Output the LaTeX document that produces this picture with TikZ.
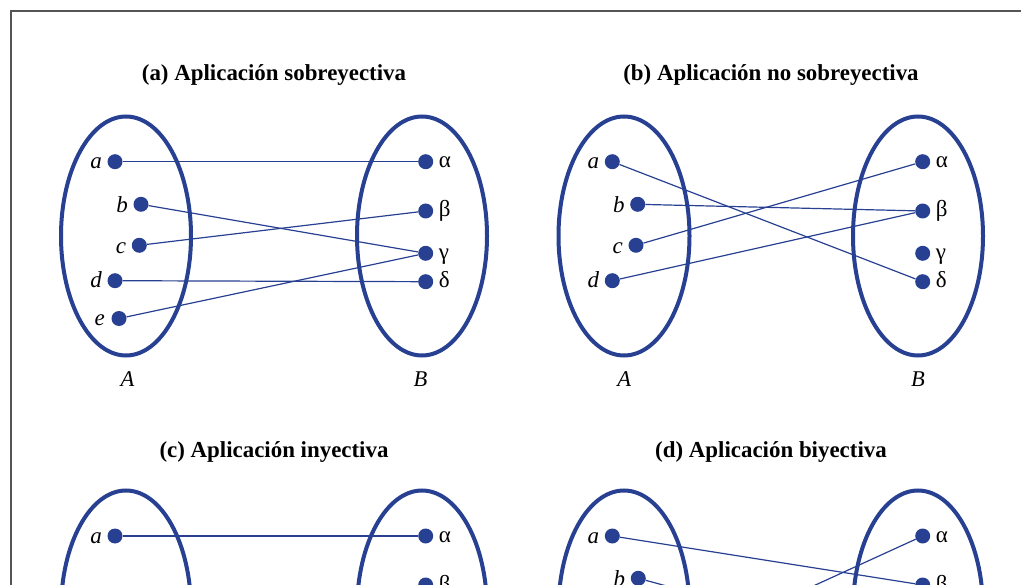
\documentclass[tikz,border=0pt]{standalone}
\usepackage{fontspec}
\setmainfont{Liberation Serif}
\definecolor{setblue}{RGB}{40,64,146}
\definecolor{framegray}{RGB}{85,85,85}
\begin{document}
\begin{tikzpicture}[x=1pt,y=-1pt,
 setell/.style={draw=setblue, line width=4pt},
 pt/.style={circle, fill=setblue, inner sep=0pt, minimum size=15pt},
 map/.style={draw=setblue, line width=1.2pt},
 lat/.style={anchor=base east, inner sep=0pt, font=\fontsize{23}{25}\selectfont\itshape},
 grk/.style={anchor=base west, inner sep=0pt, font=\fontsize{23}{25}\selectfont},
 setname/.style={anchor=base, inner sep=0pt, font=\fontsize{22.5}{25}\selectfont\itshape},
 ttl/.style={anchor=base, inner sep=0pt, font=\fontsize{22.9}{26}\selectfont\bfseries},
 frame/.style={draw=framegray, line width=1.2pt}]
\path[use as bounding box] (0,0) rectangle (1021,585);
\clip (0,0) rectangle (1021,585);
% frame
\coordinate (F-tr) at (1025,11);
\coordinate (F-tl) at (11,11);
\coordinate (F-bl) at (11,590);
\draw[frame] (F-tr) -- (F-tl) -- (F-bl);
% titles
\node[ttl] (T-a) at (274,81) {(a) Aplicación sobreyectiva};
\node[ttl] (T-b) at (771,81) {(b) Aplicación no sobreyectiva};
\node[ttl] (T-c) at (274,457) {(c) Aplicación inyectiva};
\node[ttl] (T-d) at (771,457) {(d) Aplicación biyectiva};
% ellipses
\draw[setell] (126,236) ellipse [x radius=65, y radius=119.5];
\draw[setell] (422,236) ellipse [x radius=65, y radius=119.5];
\draw[setell] (624,236) ellipse [x radius=65.5, y radius=119.5];
\draw[setell] (918,236) ellipse [x radius=65, y radius=119.5];
\draw[setell] (126,610) ellipse [x radius=65, y radius=119.5];
\draw[setell] (422,610) ellipse [x radius=65, y radius=119.5];
\draw[setell] (624,610) ellipse [x radius=65.5, y radius=119.5];
\draw[setell] (918,610) ellipse [x radius=65, y radius=119.5];
% set names
\node[setname] (A-A) at (127.5,387) {A};
\node[setname] (A-B) at (420.5,387) {B};
\node[setname] (B-A) at (624.3,387) {A};
\node[setname] (B-B) at (918,387) {B};
% ---- panel (a)
\node[pt] (Aa) at (115,161.7) {};
\node[pt] (Ab) at (141,204.3) {};
\node[pt] (Ac) at (139.3,245.3) {};
\node[pt] (Ad) at (115,280.7) {};
\node[pt] (Ae) at (119,318.5) {};
\node[pt] (Aal) at (425.7,161.7) {};
\node[pt] (Abe) at (425.7,211) {};
\node[pt] (Aga) at (425.7,253.3) {};
\node[pt] (Ade) at (425.7,281.7) {};
\node[lat] (LAa) at ([shift={(-13,7)}]Aa.center) {a};
\node[lat] (LAb) at ([shift={(-13,8)}]Ab.center) {b};
\node[lat] (LAc) at ([shift={(-13,8)}]Ac.center) {c};
\node[lat] (LAd) at ([shift={(-13,7)}]Ad.center) {d};
\node[lat] (LAe) at ([shift={(-14,7)}]Ae.center) {e};
\node[grk] (LAal) at ([shift={(13,6)}]Aal.center) {α};
\node[grk] (LAbe) at ([shift={(13,6)}]Abe.center) {β};
\node[grk] (LAga) at ([shift={(13,6)}]Aga.center) {γ};
\node[grk] (LAde) at ([shift={(13,6)}]Ade.center) {δ};
\draw[map] (Aa) -- (Aal);
\draw[map] (Ab) -- (Aga);
\draw[map] (Ac) -- (Abe);
\draw[map] (Ad) -- (Ade);
\draw[map] (Ae) -- (Aga);
% ---- panel (b)
\node[pt] (Ba) at (612.3,161.7) {};
\node[pt] (Bb) at (637.7,204.3) {};
\node[pt] (Bc) at (636,245.3) {};
\node[pt] (Bd) at (612.3,280.7) {};
\node[pt] (Bal) at (922.7,161.7) {};
\node[pt] (Bbe) at (922.7,211) {};
\node[pt] (Bga) at (922.7,253.3) {};
\node[pt] (Bde) at (922.7,281.7) {};
\node[lat] (LBa) at ([shift={(-13,7)}]Ba.center) {a};
\node[lat] (LBb) at ([shift={(-13,8)}]Bb.center) {b};
\node[lat] (LBc) at ([shift={(-13,8)}]Bc.center) {c};
\node[lat] (LBd) at ([shift={(-13,7)}]Bd.center) {d};
\node[grk] (LBal) at ([shift={(13,6)}]Bal.center) {α};
\node[grk] (LBbe) at ([shift={(13,6)}]Bbe.center) {β};
\node[grk] (LBga) at ([shift={(13,6)}]Bga.center) {γ};
\node[grk] (LBde) at ([shift={(13,6)}]Bde.center) {δ};
\draw[map] (Ba) -- (Bde);
\draw[map] (Bb) -- (Bbe);
\draw[map] (Bc) -- (Bal);
\draw[map] (Bd) -- (Bbe);
% ---- panel (c)
\node[pt] (Ca) at (115,536) {};
\node[pt] (Cal) at (425.7,536) {};
\node[pt] (Cbe) at (425.7,585) {};
\node[lat] (LCa) at ([shift={(-13,7)}]Ca.center) {a};
\node[grk] (LCal) at ([shift={(13,6)}]Cal.center) {α};
\node[grk] (LCbe) at ([shift={(13,6)}]Cbe.center) {β};
\draw[map] (Ca) -- (Cal);
% ---- panel (d)
\node[pt] (Da) at (612.3,536) {};
\node[pt] (Db) at (638.3,578.3) {};
\node[pt] (Dal) at (922.7,536) {};
\node[pt] (Dbe) at (922.7,585) {};
\coordinate (Dx1) at (636,667);
\coordinate (Dx2) at (922.7,655.7);
\node[lat] (LDa) at ([shift={(-13,7)}]Da.center) {a};
\node[lat] (LDb) at ([shift={(-13,8)}]Db.center) {b};
\node[grk] (LDal) at ([shift={(13,6)}]Dal.center) {α};
\node[grk] (LDbe) at ([shift={(13,6)}]Dbe.center) {β};
\draw[map] (Da) -- (Dbe);
\draw[map] (Dal) -- (Dx1);
\draw[map] (Db) -- (Dx2);
\end{tikzpicture}
\end{document}
